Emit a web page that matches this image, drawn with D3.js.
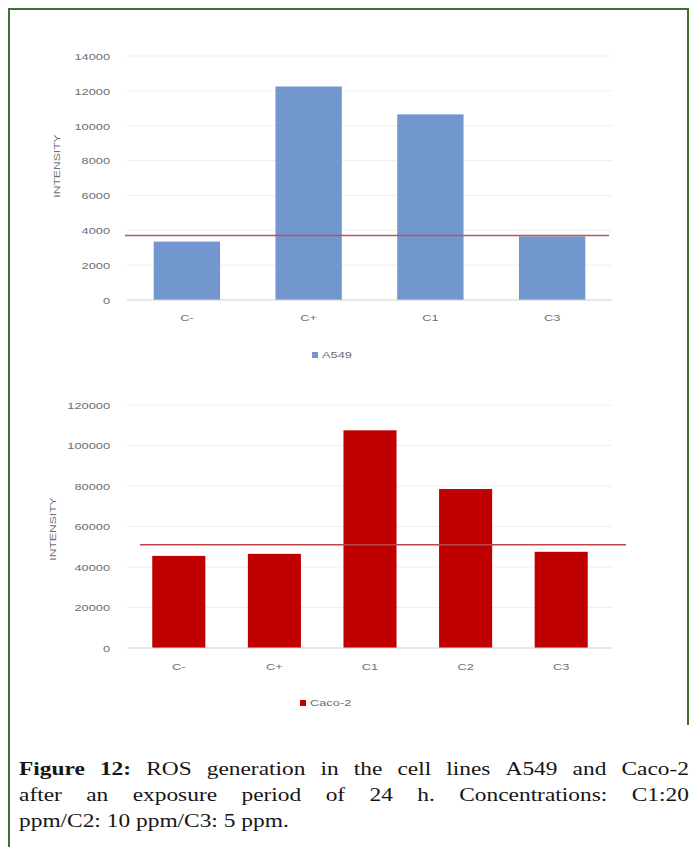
<!DOCTYPE html>
<html>
<head>
<meta charset="utf-8">
<script src="https://cdn.jsdelivr.net/npm/d3@7"></script>
<style>
  html, body { margin: 0; padding: 0; background: #fff; }
  svg { display: block; }
</style>
</head>
<body>
<svg id="chart" width="697" height="847"></svg>
<script>
// ---------- data ----------
const topCategories = ["C-", "C+", "C1", "C3"];
const topValues = [3350, 12250, 10650, 3650];
const topThreshold = 3700;
const topTicks = [0, 2000, 4000, 6000, 8000, 10000, 12000, 14000];
const topSeriesName = "A549";

const botCategories = ["C-", "C+", "C1", "C2", "C3"];
const botValues = [45500, 46500, 107500, 78500, 47500];
const botThreshold = 51000;
const botTicks = [0, 20000, 40000, 60000, 80000, 100000, 120000];
const botSeriesName = "Caco-2";

const yTitle = "INTENSITY";
const captionLines = [
  "Figure 12: ROS generation in the cell lines A549 and Caco-2",
  "after an exposure period of 24 h. Concentrations: C1:20",
  "ppm/C2: 10 ppm/C3: 5 ppm."
];

// ---------- drawing ----------
const svg = d3.select("#chart");
const SX = 1.35;          // horizontal stretch of the chart image text
const textColor = "#6e6e6e";
const tickFont = "'Liberation Sans', Arial, sans-serif";

// frame
const frameColor = "#41712f";
svg.append("line").attr("x1", 9).attr("x2", 688).attr("y1", 9).attr("y2", 9)
  .attr("stroke", frameColor).attr("stroke-width", 2);
svg.append("line").attr("x1", 9).attr("x2", 9).attr("y1", 8).attr("y2", 847)
  .attr("stroke", frameColor).attr("stroke-width", 2);
svg.append("line").attr("x1", 688).attr("x2", 688).attr("y1", 8).attr("y2", 725)
  .attr("stroke", frameColor).attr("stroke-width", 2);

function drawChart(cfg) {
  const g = svg.append("g");
  const y = d3.scaleLinear().domain(cfg.domain).range([cfg.y0, cfg.y1]);
  const x = d3.scaleBand().domain(cfg.categories).range(cfg.bandRange).padding(0);

  // gridlines
  g.append("g").selectAll("line").data(cfg.ticks.filter(d => d > 0)).join("line")
    .attr("x1", cfg.gridRange[0]).attr("x2", cfg.gridRange[1])
    .attr("y1", d => y(d)).attr("y2", d => y(d))
    .attr("stroke", "#eeeeee").attr("stroke-width", 1);

  // bars
  const bw = x.bandwidth() * cfg.barFrac;
  g.append("g").selectAll("rect").data(cfg.values).join("rect")
    .attr("x", (d, i) => x(cfg.categories[i]) + (x.bandwidth() - bw) / 2)
    .attr("width", bw)
    .attr("y", d => y(d))
    .attr("height", d => y(0) - y(d))
    .attr("fill", cfg.color);

  // baseline axis line
  g.append("line").attr("x1", cfg.gridRange[0]).attr("x2", cfg.gridRange[1])
    .attr("y1", y(0)).attr("y2", y(0)).attr("stroke", "#d2cfd2").attr("stroke-width", 1.2);

  // threshold line
  g.append("line")
    .attr("x1", cfg.bandRange[0] + cfg.lineOffsets[0])
    .attr("x2", cfg.bandRange[1] + cfg.lineOffsets[1])
    .attr("y1", y(cfg.threshold)).attr("y2", y(cfg.threshold))
    .attr("stroke", cfg.lineColor).attr("stroke-width", 1.6);

  // y axis
  const ya = g.append("g").attr("transform", `translate(${cfg.gridRange[0]},0)`)
    .call(d3.axisLeft(y).tickValues(cfg.ticks).tickSize(0).tickFormat(d3.format("d")));
  ya.select(".domain").remove();
  ya.selectAll("text")
    .attr("x", -17 / SX).attr("dy", "0.35em")
    .attr("transform", `scale(${SX},1)`)
    .attr("fill", textColor).attr("font-size", 9.5).attr("font-family", tickFont);

  // x axis
  const xa = g.append("g").attr("transform", `translate(0,${y(0)})`)
    .call(d3.axisBottom(x).tickSize(0));
  xa.select(".domain").remove();
  xa.selectAll("text")
    .attr("y", 0).attr("dy", cfg.xLabelDy)
    .attr("transform", `scale(${SX},1)`)
    .attr("fill", textColor).attr("font-size", 9.5).attr("font-family", tickFont);

  // y title
  g.append("text")
    .attr("transform", `translate(${cfg.titleX},${cfg.titleY}) rotate(-90) scale(${SX},1)`)
    .attr("text-anchor", "middle").attr("dy", "0.35em")
    .attr("fill", textColor).attr("font-size", 9).attr("font-family", tickFont)
    .text(yTitle);

  // legend
  const lg = g.append("g").attr("transform", `translate(${cfg.legendX},${cfg.legendY})`);
  lg.append("rect").attr("x", 0).attr("y", -3).attr("width", 6).attr("height", 6).attr("fill", cfg.color);
  lg.append("text").attr("transform", `translate(10,0) scale(${SX},1)`).attr("dy", "0.35em")
    .attr("fill", textColor).attr("font-size", 9.5).attr("font-family", tickFont)
    .text(cfg.seriesName);
}

drawChart({
  categories: topCategories, values: topValues, threshold: topThreshold, ticks: topTicks,
  domain: [0, 14000], y0: 300, y1: 56,
  bandRange: [126, 613], gridRange: [127, 612], barFrac: 0.545,
  color: "#7297cf", lineColor: "#c4505a", lineOffsets: [-1, -4],
  xLabelDy: 21, titleX: 57, titleY: 166,
  legendX: 312, legendY: 355, seriesName: topSeriesName
});

drawChart({
  categories: botCategories, values: botValues, threshold: botThreshold, ticks: botTicks,
  domain: [0, 120000], y0: 648, y1: 405,
  bandRange: [131, 609], gridRange: [127, 612], barFrac: 0.555,
  color: "#c00000", lineColor: "#b9474c", lineOffsets: [9, 17],
  xLabelDy: 22, titleX: 52.5, titleY: 529,
  legendX: 300, legendY: 703, seriesName: botSeriesName
});

// ---------- caption (justified lines) ----------
const capFont = "'Liberation Serif', 'Times New Roman', serif";
const capSize = 19.5;
const capSX = 1.2;
const capLeft = 19, capRight = 689;
const capBaselines = [775, 801, 827];
const measure = svg.append("text").attr("font-family", capFont).attr("font-size", capSize)
  .attr("visibility", "hidden");
function wordWidth(w, bold) {
  measure.attr("font-weight", bold ? "bold" : "normal").text(w);
  return measure.node().getComputedTextLength();
}
measure.attr("font-weight", "normal").text("a a");
const spaceW = measure.node().getComputedTextLength() - 2 * wordWidth("a", false);

captionLines.forEach((line, li) => {
  const words = line.split(" ");
  const bolds = words.map((w, i) => li === 0 && i < 2);
  const widths = words.map((w, i) => wordWidth(w, bolds[i]));
  const total = d3.sum(widths);
  const justify = li < captionLines.length - 1;
  const avail = (capRight - capLeft) / capSX;
  const gap = justify ? (avail - total) / (words.length - 1) : spaceW;
  let xpos = 0;
  const t = svg.append("text").attr("font-family", capFont).attr("font-size", capSize)
    .attr("fill", "#161616")
    .attr("transform", `translate(${capLeft},${capBaselines[li]}) scale(${capSX},1)`);
  words.forEach((w, i) => {
    t.append("tspan").attr("x", xpos).attr("font-weight", bolds[i] ? "bold" : "normal").text(w);
    xpos += widths[i] + gap;
  });
});
measure.remove();
</script>
</body>
</html>
